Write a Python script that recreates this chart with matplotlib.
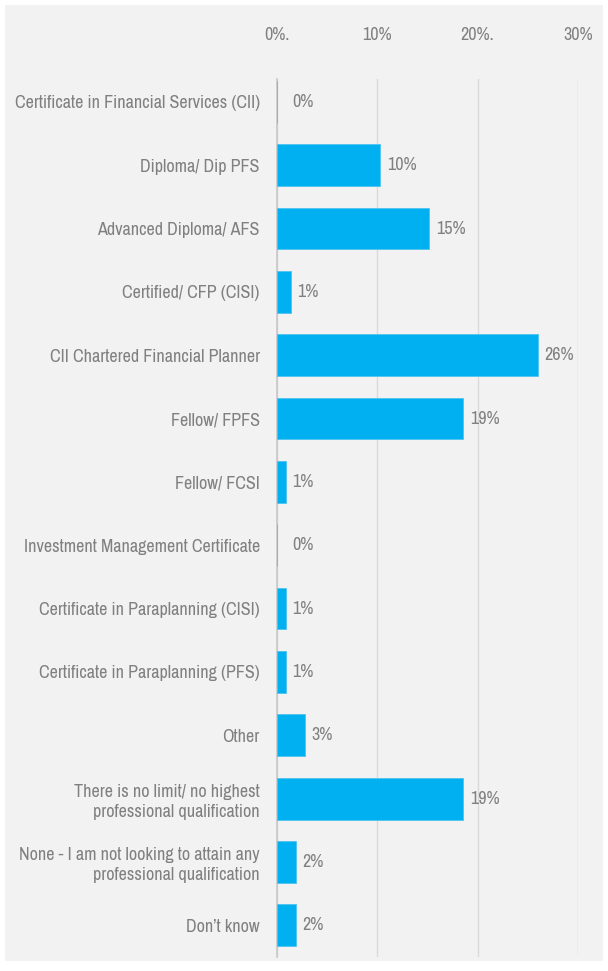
import matplotlib
matplotlib.use("Agg")
import matplotlib.pyplot as plt
from matplotlib.patches import Rectangle

plt.rcParams['font.family'] = ['Archivo Narrow', 'Liberation Sans', 'DejaVu Sans']

categories = [
    "Certificate in Financial Services (CII)",
    "Diploma/ Dip PFS",
    "Advanced Diploma/ AFS",
    "Certified/ CFP (CISI)",
    "CII Chartered Financial Planner",
    "Fellow/ FPFS",
    "Fellow/ FCSI",
    "Investment Management Certificate",
    "Certificate in Paraplanning (CISI)",
    "Certificate in Paraplanning (PFS)",
    "Other",
    "There is no limit/ no highest\nprofessional qualification",
    "None - I am not looking to attain any\nprofessional qualification",
    "Don\u2019t know",
]
values = [0.0, 10.3, 15.2, 1.4, 26.0, 18.6, 0.9, 0.0, 0.9, 0.9, 2.8, 18.6, 1.9, 1.9]
value_labels = ["0%", "10%", "15%", "1%", "26%", "19%", "1%", "0%", "1%", "1%", "3%", "19%", "2%", "2%"]
tick_values = [0, 10, 20, 30]
tick_labels = ["0%.", "10%", "20%.", "30%"]

W, H = 608, 971
FS = 13
fig = plt.figure(figsize=(W / 100, H / 100), dpi=100)
fig.patch.set_facecolor("white")
bg = Rectangle((5 / W, 1 - 961 / H), 598 / W, 956 / H,
               transform=fig.transFigure, facecolor="#f2f2f2",
               edgecolor="none", zorder=-10)
fig.patches.append(bg)

left, right = 276.5 / W, 578 / W
top, bottom = 1 - 79 / H, 1 - 957 / H
ax = fig.add_axes([left, bottom, right - left, top - bottom])
ax.set_zorder(5)
ax.set_facecolor("none")

TXT = "#808080"
y = list(range(len(categories)))
ax.barh(y, values, height=0.66, color="#00b0f0", edgecolor="#4fc3f0", linewidth=0.6, zorder=3)
ax.set_ylim(13.5, -0.36)
ax.set_xlim(0, 30)

for yi, v, lab in zip(y, values, value_labels):
    ax.annotate(lab, (v, yi), xytext=(5 if v > 0 else 11, 0), textcoords="offset points",
                va="center", ha="left", color=TXT, fontsize=FS, zorder=4)

ax.set_yticks(y)
ax.set_yticklabels(categories, fontsize=FS, color=TXT, linespacing=1.3)
ax.tick_params(axis="y", length=0, pad=12)

ax.xaxis.tick_top()
ax.set_xticks(tick_values)
ax.set_xticklabels(tick_labels, fontsize=FS, color=TXT)
ax.tick_params(axis="x", length=0, pad=26)

ax.grid(axis="x", color="#d9d9d9", linewidth=1.0, zorder=1)
ax.set_axisbelow(True)
for s in ["top", "right", "bottom"]:
    ax.spines[s].set_visible(False)
ax.spines["left"].set_color("#c8c8c8")
ax.spines["left"].set_linewidth(1.2)
ax.spines["left"].set_zorder(2)

fig.savefig("out.png", dpi=100, facecolor="white")
